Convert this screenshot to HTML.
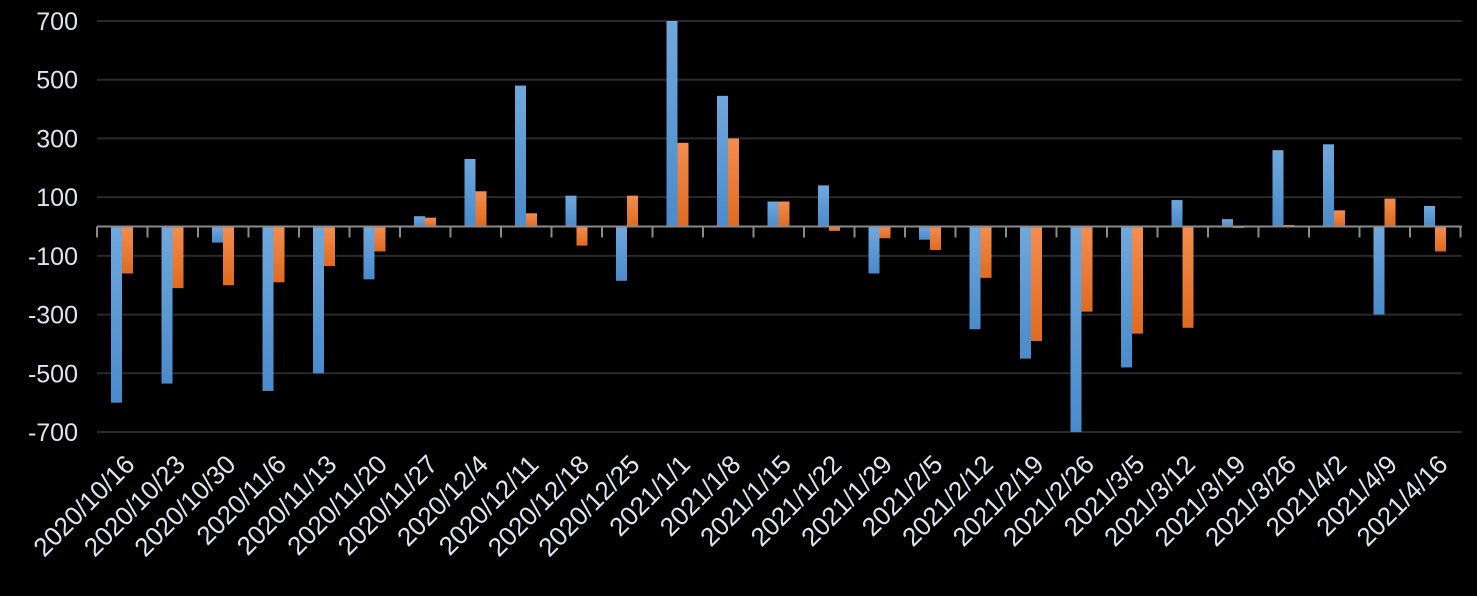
<!DOCTYPE html>
<html><head><meta charset="utf-8"><style>html,body{margin:0;background:#000;}</style></head>
<body>
<svg width="1477" height="591" xmlns="http://www.w3.org/2000/svg" font-family="Liberation Sans, sans-serif">
<defs>
<linearGradient id="b" x1="0" y1="0" x2="0" y2="1"><stop offset="0" stop-color="#6fa8dc"/><stop offset="1" stop-color="#4a8bcc"/></linearGradient>
<linearGradient id="o" x1="0" y1="0" x2="0" y2="1"><stop offset="0" stop-color="#f38d4f"/><stop offset="1" stop-color="#e06a20"/></linearGradient>
</defs>
<rect width="1477" height="591" fill="#000"/>
<g id="grid" stroke="#2a2a2a" stroke-width="2"></g>
<g id="bars"></g>
<g id="axis"></g>
<g id="lab" fill="#dde6f0" font-size="26"></g>
<g id="ylab" fill="#dde6f0" font-size="25" text-anchor="end"></g>
<script>
var ns="http://www.w3.org/2000/svg";
function el(p,t,a,txt){var e=document.createElementNS(ns,t);for(var k in a)e.setAttribute(k,a[k]);if(txt)e.textContent=txt;document.getElementById(p).appendChild(e);}
var z=226.5,s=0.2936,x0=97,w=50.5;
for(var v=-700;v<=700;v+=200){var y=z-v*s;el('grid','line',{x1:97,x2:1462,y1:y,y2:y});el('ylab','text',{x:78,y:y+9},String(v));}
var B=[-600,-535,-55,-560,-500,-180,35,230,480,105,-185,700,445,85,140,-160,-45,-350,-450,-700,-480,90,25,260,280,-300,70];
var O=[-160,-210,-200,-190,-135,-85,30,120,45,-65,105,285,300,85,-15,-40,-80,-175,-390,-290,-365,-345,-5,5,55,95,-85];
var L=["2020/10/16","2020/10/23","2020/10/30","2020/11/6","2020/11/13","2020/11/20","2020/11/27","2020/12/4","2020/12/11","2020/12/18","2020/12/25","2021/1/1","2021/1/8","2021/1/15","2021/1/22","2021/1/29","2021/2/5","2021/2/12","2021/2/19","2021/2/26","2021/3/5","2021/3/12","2021/3/19","2021/3/26","2021/4/2","2021/4/9","2021/4/16"];
for(var i=0;i<27;i++){var cx=x0+w*i;
 function bar(v,x,f){var h=Math.abs(v)*s;el('bars','rect',{x:x,width:11,y:v>0?z-h:z,height:h,fill:f});}
 bar(B[i],cx+14,'url(#b)');bar(O[i],cx+25,'url(#o)');
 var c=cx+w/2+14;el('lab','text',{x:c,y:466,'text-anchor':'end',transform:'rotate(-45 '+c+' 466)'},L[i]);
}
el('axis','line',{x1:97,x2:1462,y1:z,y2:z,stroke:'#8a8a8a','stroke-width':2});
for(var i=0;i<=27;i++){var x=x0+w*i;el('axis','line',{x1:x,x2:x,y1:z,y2:z+11,stroke:'#8a8a8a','stroke-width':2});}
</script>
</svg>
</body></html>
